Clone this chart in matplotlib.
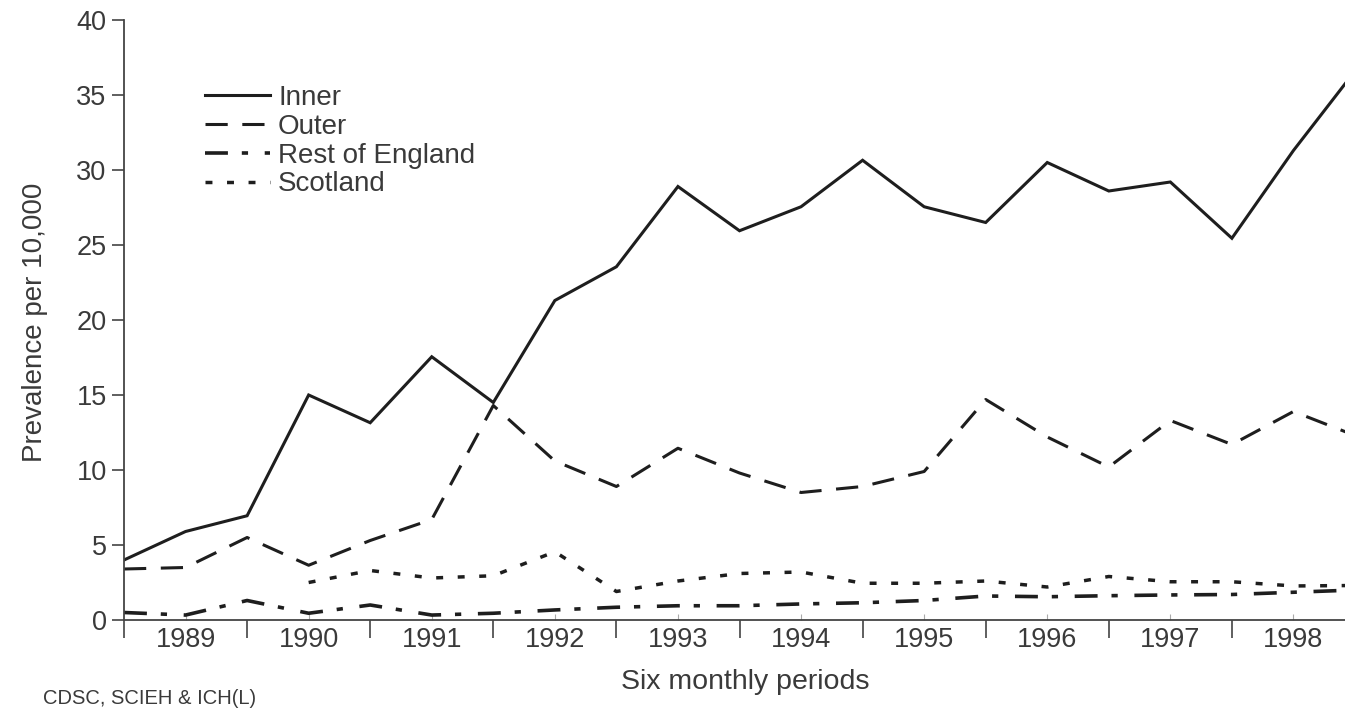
import matplotlib
matplotlib.use("Agg")
import matplotlib.pyplot as plt
from matplotlib.ticker import FixedLocator, NullFormatter

plt.rcParams['font.family'] = ['Liberation Sans', 'DejaVu Sans']
plt.rcParams['lines.scale_dashes'] = False

# half-year positions (0 = start of 1989)
periods = [i * 0.5 for i in range(21)]
years = ['1989', '1990', '1991', '1992', '1993', '1994', '1995', '1996', '1997', '1998']

inner = [4.0, 5.9, 6.95, 15.0, 13.15, 17.55, 14.5, 21.3, 23.55, 28.9, 25.95,
         27.55, 30.65, 27.55, 26.5, 30.5, 28.6, 29.2, 25.45, 31.3, 36.6]
outer = [3.4, 3.5, 5.5, 3.65, 5.3, 6.7, 14.3, 10.6, 8.9, 11.45, 9.8,
         8.5, 8.9, 9.9, 14.7, 12.2, 10.2, 13.3, 11.7, 13.9, 12.3]
rest_england = [0.5, 0.33, 1.3, 0.45, 1.0, 0.33, 0.45, 0.67, 0.85, 0.95, 0.95,
                1.07, 1.15, 1.3, 1.6, 1.55, 1.62, 1.67, 1.7, 1.85, 2.0]
scotland_periods = periods[3:]
scotland = [2.5, 3.3, 2.8, 2.95, 4.55, 1.9, 2.6, 3.1, 3.2, 2.45,
            2.45, 2.6, 2.2, 2.9, 2.55, 2.55, 2.27, 2.3]

W, H = 1345, 709
fig = plt.figure(figsize=(W / 100, H / 100), dpi=100)
left_px, right_px, top_px, bot_px = 124, 1345, 20, 620
ax = fig.add_axes([left_px / W, 1 - bot_px / H, (right_px - left_px) / W, (bot_px - top_px) / H])

lc = '#1e1e1e'
tc = '#3a3a3a'
lw = 2.2
ax.plot(periods, inner, color=lc, lw=lw, solid_joinstyle='miter', label='Inner')
ax.plot(periods, outer, color=lc, lw=lw, dashes=(16, 10.5), label='Outer')
ax.plot(periods, rest_england, color=lc, lw=lw + 0.4, dashes=(16.5, 10, 4.5, 12), label='Rest of England')
ax.plot(scotland_periods, scotland, color=lc, lw=lw + 0.3, dashes=(5, 10.5), label='Scotland')

year_w = 123.1
ax.set_xlim(0, (right_px - left_px) / year_w)
ax.set_ylim(0, 40)

for s in ['top', 'right']:
    ax.spines[s].set_visible(False)
for s in ['left', 'bottom']:
    ax.spines[s].set_color('#444444')
    ax.spines[s].set_linewidth(1.3)

fs = 19.5
ax.set_yticks(range(0, 41, 5))
ax.tick_params(axis='y', direction='out', length=8.5, width=1.2, color='#444444',
               labelsize=fs, labelcolor=tc, pad=4)

ax.xaxis.set_major_locator(FixedLocator(list(range(0, 11))))
ax.xaxis.set_major_formatter(NullFormatter())
ax.set_xticks([i + 0.5 for i in range(10)], minor=True)
ax.set_xticklabels(years, minor=True)
ax.tick_params(axis='x', which='major', direction='out', length=13, width=1.2, color='#444444')
ax.tick_params(axis='x', which='minor', direction='in', length=4, width=0.8, color='#aaaaaa',
               labelsize=fs, labelcolor=tc, pad=5)

fig.text(35 / W, 1 - 322 / H, 'Prevalence per 10,000', rotation=90, ha='center', va='center',
         fontsize=20, color=tc)
fig.text(745 / W, 1 - 682 / H, 'Six monthly periods', ha='center', va='center',
         fontsize=20.5, color=tc)
fig.text(43 / W, 1 - 698 / H, 'CDSC, SCIEH & ICH(L)', ha='left', va='center',
         fontsize=14.5, color=tc)

leg = ax.legend(loc='upper left', bbox_to_anchor=(205 / W, 1 - 85 / H), bbox_transform=fig.transFigure,
                frameon=False, fontsize=20, handlelength=2.34, handletextpad=0.29,
                labelspacing=0.1, borderpad=0, borderaxespad=0)
for t in leg.get_texts():
    t.set_color(tc)

fig.savefig('out.png', dpi=100)
